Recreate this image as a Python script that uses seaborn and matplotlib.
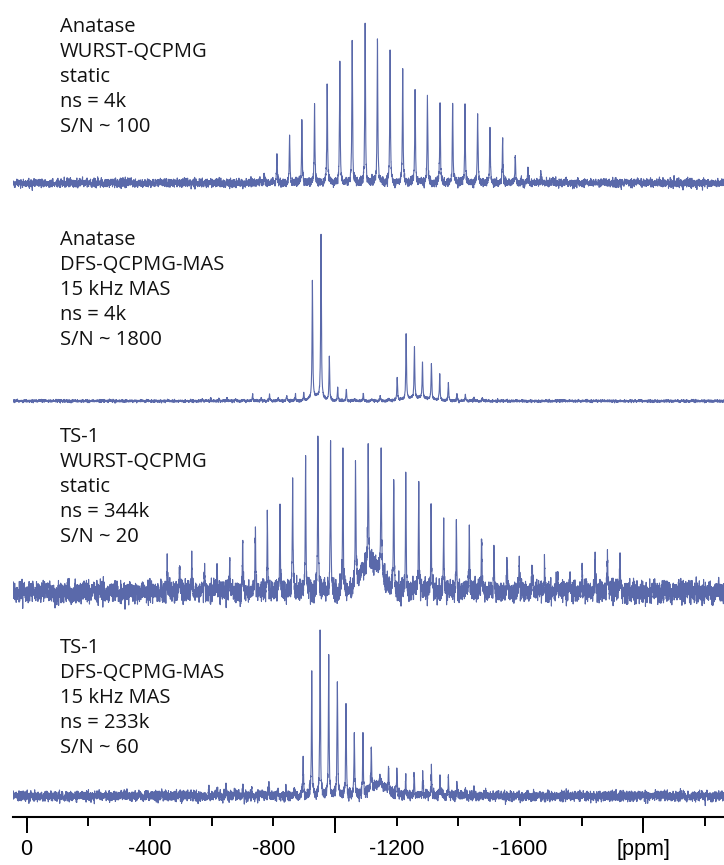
import numpy as np
import pandas as pd
import matplotlib.pyplot as plt
import seaborn as sns

# peak positions (ppm) and heights
ana_static_ppm = [-731, -771, -812, -853, -893, -934, -975, -1016, -1056, -1098, -1138, -1179, -1220,
                  -1260, -1300, -1341, -1382, -1422, -1463, -1503, -1544, -1585, -1626, -1668, -1707,
                  -1750, -1789]
ana_static_int = [3, 10, 27, 46, 63, 78, 99, 123, 144, 156, 147, 132, 111, 93, 85, 80, 79, 76, 69, 59,
                  44, 28, 16, 10, 6, 5, 4]

ana_mas_ppm = [-570, -597, -624, -651, -678, -705, -733, -761, -788, -816, -844, -872, -899, -927, -955,
               -982, -1009, -1037, -1064, -1092, -1120, -1147, -1175, -1202, -1231, -1258, -1284, -1313,
               -1340, -1368, -1396, -1423, -1451, -1478]
ana_mas_int = [2, 3, 2, 3, 2, 1, 7, 3, 6, 3, 5, 7, 8, 116, 164, 44, 14, 11, 2, 8, 2, 5, 2, 23, 65, 52,
               36, 36, 26, 17, 7, 6, 3, 3]

ts1_static_ppm = [-456, -496, -536, -577, -618, -659, -701, -742, -781, -822, -863, -905, -945, -986,
                  -1026, -1067, -1108, -1150, -1191, -1230, -1272, -1312, -1353, -1394, -1436, -1476,
                  -1516, -1558, -1598, -1640, -1680, -1722, -1762, -1802, -1844, -1884, -1925]
ts1_static_int = [21, 30, 32, 26, 18, 33, 47, 62, 73, 84, 105, 132, 153, 155, 141, 120, 116, 121, 121,
                  116, 103, 87, 73, 68, 63, 55, 43, 37, 33, 30, 29, 24, 18, 27, 37, 39, 35]

ts1_mas_ppm = [-591, -619, -647, -675, -702, -730, -758, -786, -814, -841, -869, -897, -925, -952, -980,
               -1008, -1036, -1063, -1091, -1118, -1146, -1174, -1201, -1230, -1257, -1285, -1313, -1341,
               -1368, -1396, -1423, -1451]
ts1_mas_int = [6, 8, 10, 8, 9, 6, 5, 11, 5, 5, 7, 41, 123, 166, 143, 116, 93, 63, 58, 41, 8, 23, 27, 20,
               25, 24, 27, 20, 18, 15, 6, 4]

# broad humps under the spikelets (ppm, height, width)
ana_mas_hump = [(-940, 4, 18), (-1270, 3, 40)]
ts1_static_hump = [(-1100, 25, 22), (-1140, 20, 20)]
ts1_mas_hump = [(-1141, 12, 25)]

noise_sd = [2.0, 0.6, 5.0, 2.4]

labels = [
    ["Anatase", "WURST-QCPMG", "static", "ns = 4k", "S/N ~ 100"],
    ["Anatase", "DFS-QCPMG-MAS", "15 kHz MAS", "ns = 4k", "S/N ~ 1800"],
    ["TS-1", "WURST-QCPMG", "static", "ns = 344k", "S/N ~ 20"],
    ["TS-1", "DFS-QCPMG-MAS", "15 kHz MAS", "ns = 233k", "S/N ~ 60"],
]

tick_labels = ["0", "", "-400", "", "-800", "", "-1200", "", "-1600", "", "[ppm]", ""]

sns.set_theme(style="white")
plt.rcParams['font.family'] = ['Liberation Sans', 'DejaVu Sans']
BLUE = "#5a69aa"

W, H = 724, 865
fig = plt.figure(figsize=(W / 100, H / 100), dpi=100)
ax = fig.add_axes([13 / W, 48 / H, 711 / W, 817 / H])

grid = np.arange(44, -2263, -0.25)
rng = np.random.default_rng(7)


def build(centers, heights, humps, sd):
    y = np.zeros_like(grid)
    w = 1.3
    for c, h in zip(centers, heights):
        y += h * w ** 2 / ((grid - c) ** 2 + w ** 2)
    for c, h, s in humps:
        y += h * np.exp(-0.5 * ((grid - c) / s) ** 2)
    noise = rng.normal(0, sd, grid.size)
    noise = np.convolve(noise, np.ones(2) / np.sqrt(2), mode="same")
    return y + noise


traces = [
    (ana_static_ppm, ana_static_int, []),
    (ana_mas_ppm, ana_mas_int, ana_mas_hump),
    (ts1_static_ppm, ts1_static_int, ts1_static_hump),
    (ts1_mas_ppm, ts1_mas_int, ts1_mas_hump),
]
offsets = [634, 416, 225, 21]

frames = []
for i, (c, h, hp) in enumerate(traces):
    frames.append(pd.DataFrame({"ppm": grid, "y": build(c, h, hp, noise_sd[i]) + offsets[i], "trace": i}))
df = pd.concat(frames, ignore_index=True)

for i in range(4):
    sns.lineplot(data=df[df["trace"] == i], x="ppm", y="y", estimator=None, sort=False,
                 color=BLUE, lw=0.8, ax=ax)

ax.set_xlim(44, -2262)
ax.set_ylim(0, 817)
ax.set_xlabel("")
ax.set_ylabel("")
ax.set_yticks([])
for s in ["top", "left", "right"]:
    ax.spines[s].set_visible(False)
ax.spines["bottom"].set_linewidth(1.5)
ax.spines["bottom"].set_color("black")

ax.set_xticks(np.arange(0, -2201, -200))
ax.set_xticklabels(tick_labels)
ax.set_xticks([0, -1000, -2000], minor=True)
ax.xaxis.remove_overlapping_locs = False
ax.tick_params(axis="x", which="major", direction="out", length=6.5, width=1.4, color="black",
               pad=9, labelsize=15.5, labelcolor="black", bottom=True)
ax.tick_params(axis="x", which="minor", direction="out", length=11.5, width=1.4, color="black",
               bottom=True)

tops = [31.7, 245, 442, 653]
for lines, top in zip(labels, tops):
    for k, line in enumerate(lines):
        fig.text(60 / W, 1 - (top + 25 * k) / H, line, fontfamily="Open Sans", fontsize=14.5,
                 va="baseline", ha="left", color="#111111")

fig.savefig("out.png", dpi=100)
